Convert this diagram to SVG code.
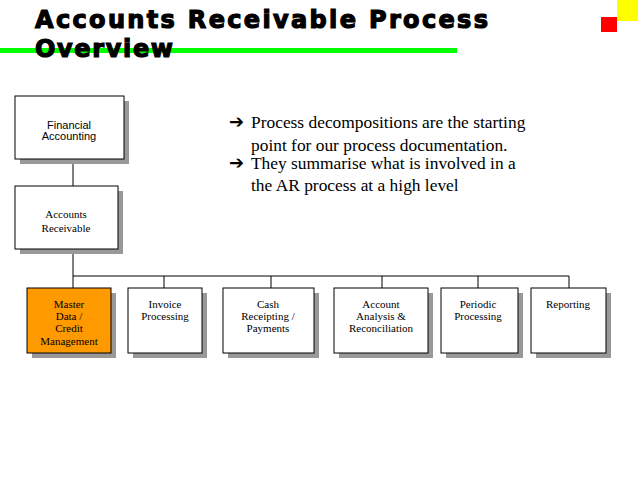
<svg xmlns="http://www.w3.org/2000/svg" width="638" height="479" viewBox="0 0 638 479">
<style>
.t{font-family:"DejaVu Sans","Liberation Sans",sans-serif;font-weight:900;font-size:24px;fill:#000;stroke:#000;stroke-width:1.2}
.b{fill:#fff;stroke:#000;stroke-width:1}
.s{fill:#999}
.n{font-family:"Liberation Serif",serif;font-size:11px;fill:#000;text-anchor:middle}
.a{font-family:"Liberation Sans",sans-serif;font-size:11px;fill:#000;text-anchor:middle}
.p{font-family:"Liberation Serif",serif;font-size:17.4px;fill:#000}
.r{font-family:"DejaVu Sans",sans-serif;font-size:18px;font-weight:bold;fill:#000}
.c{stroke:#000;stroke-width:1;fill:none}
</style>
<rect width="638" height="479" fill="#fff"/>
<rect x="617" y="0" width="21" height="21" fill="#ffff00"/>
<rect x="601" y="17" width="16" height="15" fill="#ff0000"/>
<rect x="0" y="48" width="457" height="5" fill="#00ff00"/>
<text class="t" x="35" y="28" textLength="453" lengthAdjust="spacing">Accounts Receivable Process</text>
<text class="t" x="35" y="57" textLength="138" lengthAdjust="spacing">Overview</text>
<g id="connectors">
<path class="c" d="M73 159V186M73 249V276M73 276H569M73 276V288M164 276V288M271 276V288M382 276V288M478 276V288M569 276V288"/>
</g>
<g id="n1"><rect class="s" x="20" y="101" width="109" height="63"/><rect class="b" x="15" y="96" width="109" height="63"/><text class="a" x="69" y="129">Financial</text><text class="a" x="69" y="140">Accounting</text></g>
<g id="n2"><rect class="s" x="20" y="191" width="103" height="63"/><rect class="b" x="15" y="186" width="103" height="63"/><text class="n" x="66" y="218">Accounts</text><text class="n" x="66" y="232">Receivable</text></g>
<g id="n3"><rect class="s" x="32" y="293" width="84" height="65"/><rect x="27" y="288" width="84" height="65" fill="#ff9900" stroke="#000"/><text class="n" x="69" y="308">Master</text><text class="n" x="69" y="320">Data /</text><text class="n" x="69" y="332">Credit</text><text class="n" x="69" y="345">Management</text></g>
<g id="n4"><rect class="s" x="133" y="293" width="74" height="65"/><rect class="b" x="128" y="288" width="74" height="65"/><text class="n" x="165" y="308">Invoice</text><text class="n" x="165" y="320">Processing</text></g>
<g id="n5"><rect class="s" x="228" y="293" width="91" height="65"/><rect class="b" x="223" y="288" width="91" height="65"/><text class="n" x="268" y="308">Cash</text><text class="n" x="268" y="320">Receipting /</text><text class="n" x="268" y="332">Payments</text></g>
<g id="n6"><rect class="s" x="339" y="293" width="94" height="65"/><rect class="b" x="334" y="288" width="94" height="65"/><text class="n" x="381" y="308">Account</text><text class="n" x="381" y="320">Analysis &amp;</text><text class="n" x="381" y="332">Reconciliation</text></g>
<g id="n7"><rect class="s" x="446" y="293" width="77" height="65"/><rect class="b" x="441" y="288" width="77" height="65"/><text class="n" x="478" y="308">Periodic</text><text class="n" x="478" y="320">Processing</text></g>
<g id="n8"><rect class="s" x="536" y="293" width="75" height="65"/><rect class="b" x="531" y="288" width="75" height="65"/><text class="n" x="568" y="308">Reporting</text></g>
<g id="text">
<text class="r" x="229" y="128">➔</text><text class="p" x="251" y="128">Process decompositions are the starting</text>
<text class="p" x="251" y="151">point for our process documentation.</text>
<text class="r" x="229" y="169">➔</text><text class="p" x="251" y="169">They summarise what is involved in a</text>
<text class="p" x="251" y="191">the AR process at a high level</text>
</g>
</svg>
